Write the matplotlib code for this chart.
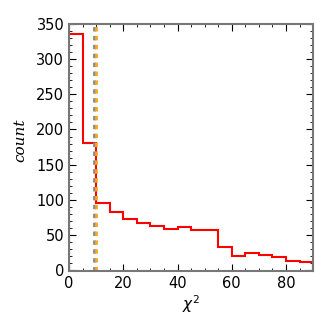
import matplotlib
matplotlib.use('Agg')
import matplotlib.pyplot as plt
import numpy as np
from matplotlib.ticker import MultipleLocator

# histogram of chi^2, bins of width 5
bin_edges = [0, 5, 10, 15, 20, 25, 30, 35, 40, 45, 50, 55, 60, 65, 70, 75, 80, 85, 90]
counts = [336, 181, 96, 83, 73, 67, 63, 59, 62, 57, 57, 33, 20, 24, 22, 19, 13, 11]
line_gray = 9.2
line_orange = 10.1

fig = plt.figure(figsize=(3.32, 3.32), dpi=100)
ax = fig.add_axes([0.208, 0.184, 0.735, 0.744])

ax.stairs(counts, bin_edges, color='red', linewidth=1.5, baseline=0)
ax.axvline(line_gray, color='#888888', linestyle=(0, (1.6, 1.6)), linewidth=2.0)
ax.axvline(line_orange, color='#f5a623', linestyle=(0, (1.6, 1.6)), linewidth=2.0)

ax.set_xlim(0, 90)
ax.set_ylim(-1, 350)
ax.xaxis.set_major_locator(MultipleLocator(20))
ax.xaxis.set_minor_locator(MultipleLocator(5))
ax.yaxis.set_major_locator(MultipleLocator(50))
ax.yaxis.set_minor_locator(MultipleLocator(10))
ax.tick_params(which='both', direction='in', top=True, right=True, labelsize=10.5)
ax.tick_params(which='major', length=5, width=0.8)
ax.tick_params(which='minor', length=2.5, width=0.6)
for s in ax.spines.values():
    s.set_color('#777777')
    s.set_linewidth(1.5)

ax.set_xlabel(r'$\chi^2$', fontsize=11, labelpad=2)
ax.set_ylabel('count', fontsize=11, family='DejaVu Serif', style='italic')
ax.yaxis.set_label_coords(-0.17, 0.53)

fig.savefig('out.png', dpi=100)
